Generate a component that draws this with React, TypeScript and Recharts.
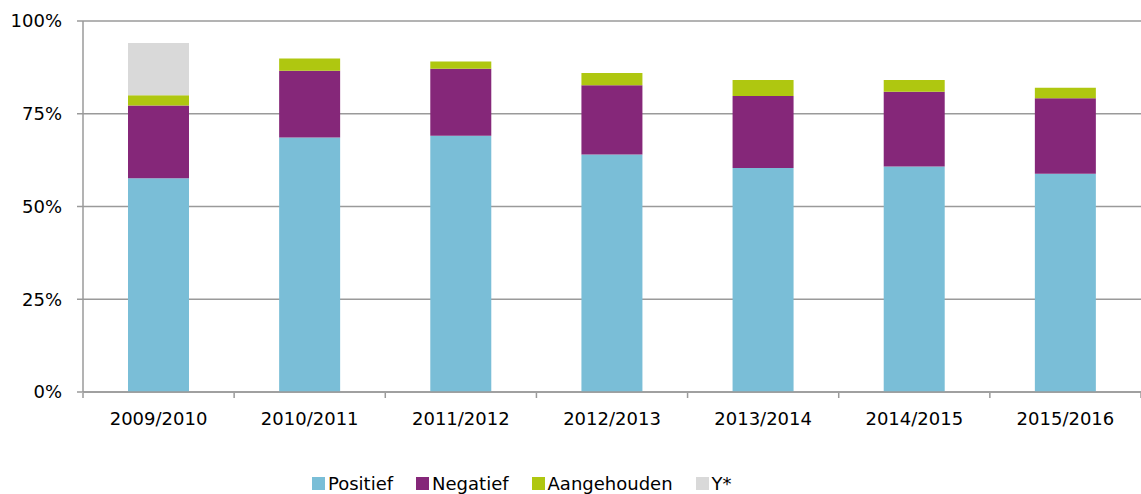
import { Bar, BarChart, CartesianGrid, Legend, XAxis, YAxis } from 'recharts'

const periods = ['2009/2010', '2010/2011', '2011/2012', '2012/2013', '2013/2014', '2014/2015', '2015/2016']
const positief = [57.6, 68.6, 69.1, 64.0, 60.4, 60.8, 58.8]
const negatief = [19.6, 18.0, 18.0, 18.7, 19.4, 20.1, 20.4]
const aangehouden = [2.8, 3.3, 2.0, 3.3, 4.3, 3.2, 2.8]
const yStar = [14.1, 0, 0, 0, 0, 0, 0]
const yTicks = [0, 25, 50, 75, 100]
const boundaryTicks = [0, 1, 2, 3, 4, 5, 6, 7]

const seriesInfo = [
  { key: 'positief', name: 'Positief', color: '#7abed7' },
  { key: 'negatief', name: 'Negatief', color: '#852779' },
  { key: 'aangehouden', name: 'Aangehouden', color: '#afc710' },
  { key: 'yStar', name: 'Y*', color: '#d9d9d9' },
]

const data = periods.map((period, i) => ({
  period,
  slot: i + 0.5,
  positief: positief[i],
  negatief: negatief[i],
  aangehouden: aangehouden[i],
  yStar: yStar[i],
}))

const axisColor = '#9a9a9a'
const font = '"DejaVu Sans", Verdana, sans-serif'

function ChartLegend() {
  return (
    <div
      style={{
        height: 36,
        boxSizing: 'border-box',
        paddingTop: 15,
        paddingLeft: 312,
        display: 'flex',
        alignItems: 'center',
        fontFamily: font,
        fontSize: 18,
        lineHeight: '20px',
        color: '#000',
      }}
    >
      {seriesInfo.map((s) => (
        <span key={s.key} style={{ display: 'flex', alignItems: 'center', marginRight: 23 }}>
          <span style={{ width: 13, height: 13, background: s.color, marginRight: 3, display: 'inline-block' }} />
          {s.name}
        </span>
      ))}
    </div>
  )
}

export default function App() {
  return (
    <div style={{ position: 'absolute', left: 0, top: 0, background: '#fff' }}>
      <BarChart
        width={1141}
        height={494}
        data={data}
        margin={{ top: 21, right: 0, bottom: 0, left: 1 }}
        style={{ fontFamily: font }}
      >
        <CartesianGrid vertical={false} stroke={axisColor} strokeWidth={1.5} />
        <XAxis
          dataKey="period"
          height={1}
          axisLine={{ stroke: axisColor, strokeWidth: 1.5 }}
          tickLine={false}
          tickSize={6}
          tickMargin={14}
          tick={{ fill: '#000', fontSize: 18 }}
          interval={0}
        />
        <XAxis
          xAxisId="edges"
          dataKey="slot"
          type="number"
          domain={[0, 7]}
          allowDataOverflow
          ticks={boundaryTicks}
          interval={0}
          tickFormatter={() => ''}
          axisLine={false}
          tickLine={{ stroke: axisColor, strokeWidth: 1.5 }}
          tickSize={5}
          height={65}
        />
        <YAxis
          width={82}
          domain={[0, 100]}
          ticks={yTicks}
          tickFormatter={(v) => `${v}%`}
          axisLine={{ stroke: axisColor, strokeWidth: 1.5 }}
          tickLine={{ stroke: axisColor, strokeWidth: 1.5 }}
          tickSize={6}
          tickMargin={15}
          tick={{ fill: '#000', fontSize: 18 }}
        />
        <Legend verticalAlign="bottom" content={() => <ChartLegend />} wrapperStyle={{ left: 0, width: 1141 }} />
        {seriesInfo.map((s) => (
          <Bar
            key={s.key}
            dataKey={s.key}
            name={s.name}
            stackId="a"
            fill={s.color}
            barSize={61}
            isAnimationActive={false}
          />
        ))}
      </BarChart>
    </div>
  )
}
